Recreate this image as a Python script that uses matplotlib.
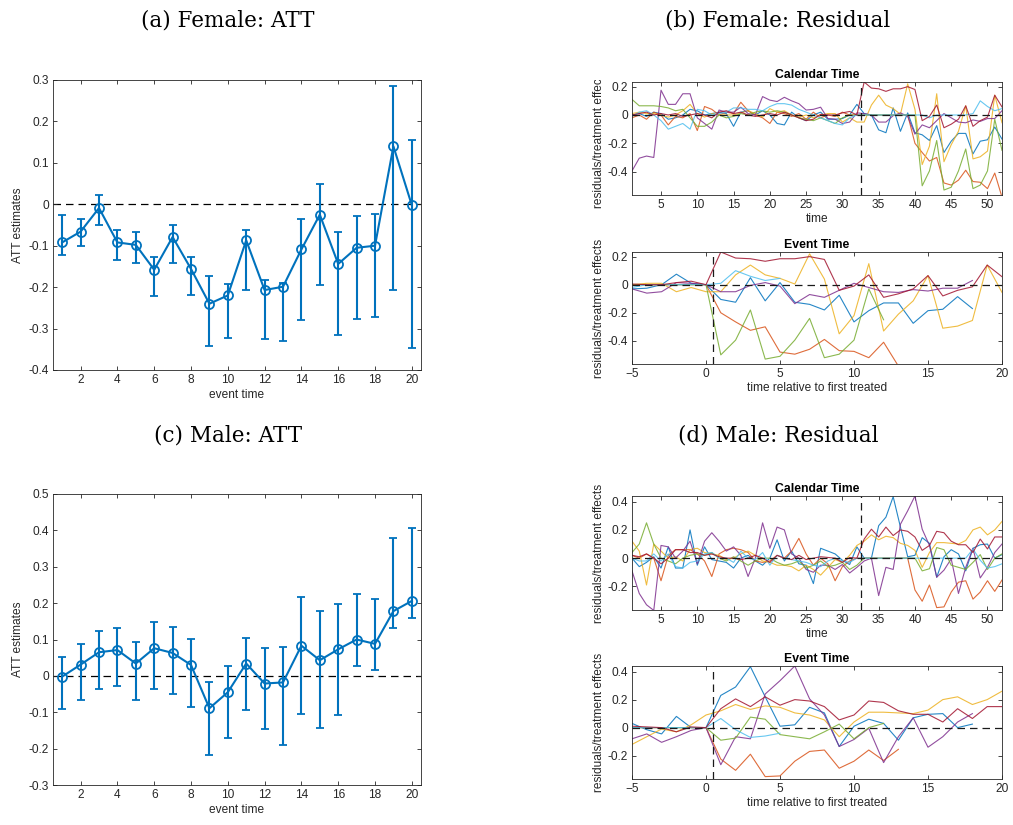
import numpy as np
import matplotlib
matplotlib.use("Agg")
import matplotlib.pyplot as plt
from matplotlib.transforms import Bbox

plt.rcParams['font.family'] = ['Liberation Sans', 'DejaVu Sans']

W, H = 1013, 825

# ---------------- ATT data ----------------
event_time = list(range(1, 21))
f_att = [-0.092, -0.066, -0.009, -0.092, -0.098, -0.158, -0.079, -0.156, -0.240, -0.220,
         -0.087, -0.207, -0.199, -0.109, -0.025, -0.144, -0.105, -0.100, 0.140, -0.002]
f_hi = [-0.026, -0.035, 0.022, -0.062, -0.068, -0.127, -0.050, -0.127, -0.172, -0.193,
        -0.062, -0.182, -0.191, -0.036, 0.048, -0.068, -0.029, -0.023, 0.285, 0.156]
f_lo = [-0.122, -0.100, -0.050, -0.134, -0.141, -0.221, -0.142, -0.220, -0.342, -0.323,
        -0.207, -0.326, -0.329, -0.279, -0.196, -0.315, -0.278, -0.273, -0.207, -0.348]

m_att = [-0.002, 0.031, 0.065, 0.071, 0.034, 0.076, 0.063, 0.030, -0.089, -0.045,
         0.034, -0.021, -0.018, 0.083, 0.043, 0.073, 0.100, 0.088, 0.178, 0.206]
m_hi = [0.052, 0.087, 0.124, 0.131, 0.094, 0.148, 0.133, 0.101, -0.018, 0.027,
        0.105, 0.076, 0.080, 0.218, 0.178, 0.198, 0.225, 0.212, 0.378, 0.406]
m_lo = [-0.091, -0.066, -0.036, -0.028, -0.065, -0.036, -0.050, -0.086, -0.218, -0.172,
        -0.093, -0.147, -0.189, -0.105, -0.144, -0.108, 0.027, 0.016, 0.131, 0.159]

# ---------------- Residual data (calendar time 1..52) ----------------
calendar_time = list(range(1, 53))
unit_names = ['blue', 'orange', 'yellow', 'purple', 'green', 'lightblue', 'darkred']
first_treated = [35, 40, 33, 35, 41, 48, 33]

f_blue = [0.0, 0.01, -0.01, 0.02, 0.01, -0.03, -0.02, 0.0, 0.04, 0.03,
          0.0, 0.01, 0.02, 0.01, -0.08, 0.02, 0.03, 0.0, 0.03, 0.0,
          -0.06, -0.07, 0.02, -0.02, -0.04, 0.0, 0.02, -0.03, -0.03, -0.025,
          0.0, 0.075, 0.01, 0.0,
          -0.105, -0.125, 0.05, -0.115, 0.015, -0.125, -0.14, -0.18, -0.075, -0.265,
          -0.185, -0.13, -0.13, -0.275, -0.185, -0.175, -0.085, -0.17]
f_orange = [-0.02, 0.0, -0.03, 0.02, 0.0, -0.07, -0.01, -0.02, 0.01, -0.11,
            0.06, 0.04, 0.0, 0.02, 0.01, 0.09, 0.03, 0.0, -0.02, -0.06,
            0.02, 0.01, -0.01, 0.01, -0.03, 0.02, -0.02, 0.0, -0.01, 0.02,
            0.0, 0.0, 0.0, 0.0, 0.0, 0.0, 0.0, 0.0, 0.0,
            -0.2, -0.265, -0.325, -0.3, -0.48, -0.495, -0.46, -0.39, -0.47, -0.475,
            -0.52, -0.41, -0.58]
f_yellow = [0.01, 0.02, 0.01, 0.01, 0.0, -0.015, 0.0, 0.03, 0.075, 0.01,
            -0.015, 0.01, 0.0, 0.0, 0.0, 0.015, 0.03, 0.01, -0.015, 0.045,
            0.02, 0.03, 0.0, -0.015, 0.0, -0.02,
            0.0, 0.01, 0.01, -0.05, -0.02, -0.05,
            -0.05, 0.07, 0.14, 0.07, 0.045, 0.005, 0.22, 0.04, -0.35, -0.22,
            0.15, -0.33, -0.21, -0.115, 0.065, -0.31, -0.295, -0.255, 0.14, -0.055]
f_purple = [-0.395, -0.305, -0.29, -0.3, 0.175, 0.075, 0.075, 0.15, 0.15, -0.02,
            -0.06, -0.1, 0.035, 0.02, 0.02, 0.055, 0.01, 0.0, 0.13, 0.105,
            0.095, 0.125, 0.1, 0.08, 0.035, 0.04, 0.055, -0.025,
            -0.03, -0.06, -0.05, 0.015, 0.01, 0.0,
            -0.05, -0.05, -0.005, 0.015, -0.01, -0.135, -0.07, -0.09, -0.04, 0.01,
            -0.02, -0.05, -0.055, -0.035, -0.045, -0.025, -0.025, 0.03]
f_green = [0.11, 0.065, 0.065, 0.065, 0.06, 0.05, 0.03, 0.04, -0.02, -0.08,
           -0.08, -0.05, 0.0, -0.02, -0.01, 0.01, 0.0, 0.02, 0.03, 0.02,
           0.03, 0.02, 0.0, -0.02, -0.03, -0.04, -0.02, -0.04, -0.06, -0.02, 0.0, 0.0,
           0.0, 0.0, 0.0, 0.0, 0.0, 0.0, 0.0, 0.0,
           -0.5, -0.395, -0.18, -0.53, -0.51, -0.395, -0.24, -0.52, -0.495, -0.395,
           -0.03, -0.25]
f_lightblue = [-0.01, 0.02, 0.03, 0.0, -0.04, -0.1, -0.08, -0.06, -0.1, 0.04,
               0.03, 0.0, 0.01, 0.02, 0.05, 0.05, 0.04, 0.04, 0.03, 0.06,
               0.08, 0.08, 0.07, 0.04, 0.02, 0.0, -0.02, -0.04, -0.06, -0.07, -0.02, 0.0,
               0.0, 0.0, 0.0, 0.0, 0.0, 0.0, 0.0, 0.0, 0.0, -0.02, 0.0, 0.0, 0.0, 0.0, 0.0,
               0.01, 0.1, 0.06, 0.03, 0.045]
f_darkred = [0.0, 0.01, 0.02, 0.0, 0.01, 0.0, 0.01, -0.01, 0.0, 0.01,
             0.0, -0.02, 0.02, 0.03, 0.01, 0.02, 0.0, -0.01, 0.0, 0.01,
             0.0, 0.02, 0.0, -0.02, -0.04, -0.03,
             0.005, 0.0, 0.0, 0.015, 0.025, 0.0,
             0.233, 0.19, 0.185, 0.167, 0.185, 0.185, 0.2, 0.18, -0.04, -0.01,
             0.07, -0.09, -0.065, -0.03, 0.065, -0.08, -0.04, -0.015, 0.14, 0.057]

m_blue = [0.0, -0.06, -0.03, 0.01, -0.07, 0.08, -0.07, -0.07, 0.2, -0.05,
          0.08, -0.01, -0.02, -0.03, -0.07, 0.0, 0.02, -0.02, -0.05, 0.0,
          0.13, -0.02, 0.05, -0.04, -0.05, -0.18, 0.07, 0.05,
          0.03, -0.015, -0.045, 0.08, 0.0, 0.0,
          0.23, 0.29, 0.435, 0.22, 0.01, 0.02, 0.145, 0.105, -0.135, 0.01,
          0.06, 0.03, -0.09, 0.07, 0.095, 0.1, 0.0, 0.025]
m_orange = [0.02, 0.0, 0.03, 0.0, -0.16, 0.02, 0.06, 0.06, 0.06, 0.03,
            -0.02, -0.13, 0.03, 0.06, 0.07, 0.06, 0.04, -0.02, -0.03, -0.02,
            0.02, 0.0, 0.05, 0.14, 0.03, -0.05, 0.0, -0.04, -0.16, -0.06, -0.02, 0.0,
            0.0, 0.0, 0.0, 0.0, 0.0, 0.0, 0.0,
            -0.225, -0.305, -0.19, -0.35, -0.345, -0.24, -0.17, -0.16, -0.29, -0.24,
            -0.16, -0.235, -0.155]
m_yellow = [0.12, 0.05, -0.19, 0.1, 0.05, 0.0, 0.01, -0.02, 0.06, 0.07,
            0.04, 0.03, 0.02, -0.01, 0.0, 0.03, 0.05, 0.02, -0.02, -0.03,
            -0.05, -0.05, -0.06, -0.09, -0.05, -0.08,
            -0.12, -0.065, -0.01, -0.03, 0.02, 0.09,
            0.12, 0.165, 0.13, 0.155, 0.145, 0.105, 0.09, 0.055, -0.065, 0.04,
            0.11, 0.11, 0.105, 0.1, 0.125, 0.2, 0.22, 0.165, 0.2, 0.26]
m_purple = [-0.09, -0.25, -0.33, -0.37, 0.09, 0.08, 0.0, 0.05, 0.12, -0.04,
            0.12, 0.18, 0.12, 0.05, 0.08, 0.02, -0.13, 0.0, 0.25, 0.07,
            0.22, 0.2, 0.03, 0.0, -0.08, -0.1, -0.05, -0.05,
            -0.08, -0.045, -0.105, -0.065, -0.02, 0.0,
            -0.265, -0.065, -0.08, 0.24, 0.335, 0.44, 0.205, 0.09, -0.135, -0.085,
            -0.005, -0.25, -0.065, 0.07, -0.14, -0.065, 0.04, 0.1]
m_green = [0.04, 0.1, 0.25, 0.1, 0.0, -0.02, -0.04, 0.0, 0.02, 0.03,
           0.02, 0.04, 0.0, -0.02, 0.01, -0.02, -0.05, -0.02, 0.0, 0.0,
           -0.03, -0.05, -0.04, -0.02, -0.07, -0.05, -0.02, -0.06, -0.05, -0.03, -0.08, -0.05,
           0.0, 0.0, 0.0, 0.0, 0.0, 0.0, 0.0, 0.0,
           -0.09, -0.075, 0.075, 0.06, -0.05, -0.065, -0.08, -0.03, 0.025, -0.08,
           0.0, 0.03]
m_lightblue = [0.0, -0.02, -0.02, 0.03, -0.02, 0.03, -0.06, -0.07, -0.03, -0.02,
               0.03, 0.04, 0.0, 0.0, -0.03, 0.05, 0.0, -0.01, 0.04, -0.05,
               0.02, 0.0, -0.01, -0.02, -0.03, -0.05, -0.06, -0.02, 0.0, -0.02, -0.03, 0.0,
               0.0, 0.0, 0.0, 0.0, 0.0, 0.0, 0.0, 0.0, 0.0, 0.0, 0.0, 0.0, 0.0, 0.0, 0.0,
               0.065, -0.015, -0.07, -0.06, -0.04]
m_darkred = [0.02, 0.01, 0.03, 0.0, -0.04, 0.0, 0.06, 0.06, 0.04, 0.04,
             0.02, 0.03, 0.01, 0.0, 0.0, -0.01, 0.0, 0.02, 0.0, -0.03,
             0.02, 0.0, -0.01, 0.02, -0.01, 0.0,
             0.01, 0.005, 0.0, -0.03, 0.005, 0.0,
             0.135, 0.205, 0.15, 0.22, 0.16, 0.2, 0.19, 0.15, 0.055, 0.09,
             0.19, 0.18, 0.12, 0.095, 0.095, 0.04, 0.135, 0.065, 0.15, 0.15]

female_units = [f_blue, f_orange, f_yellow, f_purple, f_green, f_lightblue, f_darkred]
male_units = [m_blue, m_orange, m_yellow, m_purple, m_green, m_lightblue, m_darkred]

colors = [(0.0, 0.447, 0.741), (0.85, 0.325, 0.098), (0.929, 0.694, 0.125),
          (0.494, 0.184, 0.556), (0.466, 0.674, 0.188), (0.301, 0.745, 0.933),
          (0.635, 0.078, 0.184)]

AX_C = (0.15, 0.15, 0.15)
ATT_BLUE = (0.0, 0.447, 0.741)


def add_ax(left, top, right, bottom):
    return fig.add_axes([left / W, 1 - bottom / H, (right - left) / W, (bottom - top) / H])


def style(ax, fs):
    for s in ax.spines.values():
        s.set_color(AX_C)
        s.set_linewidth(0.6)
    ax.tick_params(direction='in', top=True, right=True, length=3, width=0.6,
                   colors=AX_C, labelsize=fs, pad=3)


fig = plt.figure(figsize=(W / 100, H / 100), dpi=100)
fig.patch.set_facecolor('white')

title_kw = dict(family='DejaVu Serif', fontsize=15.5, ha='center', va='center')
fig.text(228 / W, 1 - 20 / H, '(a) Female: ATT', **title_kw)
fig.text(778 / W, 1 - 20 / H, '(b) Female: Residual', **title_kw)
fig.text(228 / W, 1 - 436 / H, '(c) Male: ATT', **title_kw)
fig.text(778 / W, 1 - 436 / H, '(d) Male: Residual', **title_kw)


def att_panel(box, att, lo, hi, ylim, yticks):
    ax = add_ax(*box)
    x = np.array(event_time)
    y = np.array(att)
    yerr = np.vstack([y - np.array(lo), np.array(hi) - y])
    ax.axhline(0, color='k', ls=(0, (6, 4)), lw=0.9, zorder=1)
    ax.errorbar(x, y, yerr=yerr, color=ATT_BLUE, lw=1.5, elinewidth=1.5,
                capsize=3, capthick=1.5, marker='o', markersize=6.5,
                markerfacecolor='none', markeredgewidth=1.3, zorder=3)
    ax.set_xlim(0.5, 20.5)
    ax.set_ylim(*ylim)
    ax.set_xticks(list(range(2, 21, 2)))
    ax.set_yticks(yticks)
    ax.set_yticklabels([('%g' % v) for v in yticks])
    style(ax, 8.6)
    ax.set_xlabel('event time', fontsize=8.6, color=AX_C, labelpad=2)
    ax.set_ylabel('ATT estimates', fontsize=8.6, color=AX_C, labelpad=3)
    return ax


att_panel((53, 80, 421, 370), f_att, f_lo, f_hi, (-0.4, 0.3),
          [-0.4, -0.3, -0.2, -0.1, 0, 0.1, 0.2, 0.3])
att_panel((53, 494, 421, 785), m_att, m_lo, m_hi, (-0.3, 0.5),
          [-0.3, -0.2, -0.1, 0, 0.1, 0.2, 0.3, 0.4, 0.5])

RES_FS = 8.6
LINE_KW = dict(lw=0.8, alpha=0.85)


def calendar_panel(box, units, ylim, yticks, clip_top=None):
    ax = add_ax(*box)
    t = np.array(calendar_time)
    for vals, c in zip(units, colors):
        ax.plot(t, vals, color=c, **LINE_KW)
    ax.axhline(0, color=(0.1, 0.1, 0.1), ls=(0, (6, 4)), lw=0.9)
    ax.axvline(32.5, color=(0.1, 0.1, 0.1), ls=(0, (6, 4)), lw=0.9)
    ax.set_xlim(1, 52)
    ax.set_ylim(*ylim)
    ax.set_xticks(list(range(5, 51, 5)))
    ax.set_yticks(yticks)
    ax.set_yticklabels([('%g' % v) for v in yticks])
    style(ax, RES_FS)
    ax.set_title('Calendar Time', fontsize=8.8, fontweight='bold', pad=3)
    ax.set_xlabel('time', fontsize=RES_FS, color=AX_C, labelpad=1)
    lbl = ax.set_ylabel('residuals/treatment effects', fontsize=RES_FS, color=AX_C, labelpad=2)
    if clip_top is not None:
        lbl.set_clip_box(Bbox([[0, 0], [W, H - clip_top]]))
        lbl.set_clip_on(True)
    return ax


def event_panel(box, units, ylim, yticks):
    ax = add_ax(*box)
    t = np.array(calendar_time)
    for vals, c, start in zip(units, colors, first_treated):
        ev = t - (start - 1)
        m = (ev >= -5) & (ev <= 20)
        ax.plot(ev[m], np.array(vals)[m], color=c, **LINE_KW)
    ax.axhline(0, color=(0.1, 0.1, 0.1), ls=(0, (6, 4)), lw=0.9)
    ax.axvline(0.5, color=(0.1, 0.1, 0.1), ls=(0, (6, 4)), lw=0.9)
    ax.set_xlim(-5, 20)
    ax.set_ylim(*ylim)
    ax.set_xticks([-5, 0, 5, 10, 15, 20])
    ax.set_yticks(yticks)
    ax.set_yticklabels([('%g' % v) for v in yticks])
    style(ax, RES_FS)
    ax.set_title('Event Time', fontsize=8.8, fontweight='bold', pad=3)
    ax.set_xlabel('time relative to first treated', fontsize=RES_FS, color=AX_C, labelpad=1)
    ax.set_ylabel('residuals/treatment effects', fontsize=RES_FS, color=AX_C, labelpad=2)
    return ax


f_ylim = (-0.565, 0.233)
m_ylim = (-0.367, 0.44)
calendar_panel((632, 82, 1002, 195), female_units, f_ylim, [-0.4, -0.2, 0, 0.2], clip_top=80)
event_panel((632, 252, 1002, 364), female_units, f_ylim, [-0.4, -0.2, 0, 0.2])
calendar_panel((632, 496, 1002, 610), male_units, m_ylim, [-0.2, 0, 0.2, 0.4])
event_panel((632, 666, 1002, 779), male_units, m_ylim, [-0.2, 0, 0.2, 0.4])

fig.savefig('out.png', dpi=100, facecolor='white')
